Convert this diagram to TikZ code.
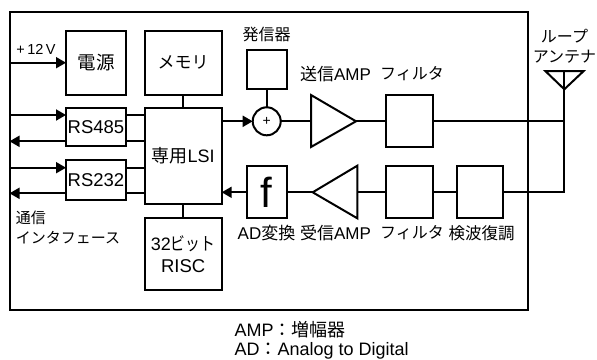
\documentclass[tikz,border=0pt]{standalone}
\usepackage{graphicx}
\usepackage{fontspec}
\setmainfont{Liberation Sans}
\newfontfamily\cjk{Noto Sans CJK JP}
\usetikzlibrary{arrows.meta}
\newcommand{\fs}[1]{\fontsize{#1}{#1}\selectfont}
\tikzset{
  x=1pt,y=-1pt,
  box/.style={draw,line width=2pt,inner sep=0pt,outer sep=0pt,align=center,font=\fs{18.5}},
  lbl/.style={inner sep=0pt,outer sep=0pt,font=\fs{16},align=center},
  wire/.style={line width=1.9pt},
  arr/.style={line width=1.9pt,-{Triangle[length=10pt,width=11pt]},shorten >=0pt},
  tri/.style={line width=2pt,line join=miter,fill=white},
}
\newcommand{\bx}[6]{\node[box,minimum width=#4-#2 pt,minimum height=#5-#3 pt] (#1) at ({(#2+#4)/2},{(#3+#5)/2}) {#6};}
\begin{document}
\begin{tikzpicture}
\useasboundingbox (0,0) rectangle (597,359);
\node[draw,line width=2pt,inner sep=0pt,outer sep=0pt,minimum width=518pt,minimum height=298.5pt] (frame) at (268.5,160.75) {};
\bx{psu}{66}{30.7}{126}{95}{{\cjk 電源}}
\bx{mem}{144.5}{30.7}{221.7}{95}{{\fs{17}\cjk メモリ}}
\bx{lsi}{144.5}{108}{221.7}{204.3}{\fs{18}{\cjk 専用}LSI}
\bx{rsa}{66}{108}{126}{146.3}{RS485}
\bx{rsb}{66}{160.3}{126}{199.7}{RS232}
\bx{risc}{144.5}{217.7}{221.7}{290.3}{\fs{18}32\scalebox{0.82}[1]{\cjk ビット}\\[3pt]RISC}
\bx{osc}{246.7}{50}{286.7}{89.3}{}
\node[draw,circle,line width=2pt,minimum size=28pt,inner sep=0pt,outer sep=0pt,font=\fs{14}] (mix) at (266.7,121.3) {+};
\bx{adc}{246.7}{165.7}{286.7}{218.3}{\fs{42}f}
\bx{ftx}{386.3}{95}{433}{147}{}
\bx{frx}{386.3}{165.7}{433}{218.3}{}
\bx{det}{456.7}{165.7}{503.3}{218.3}{}
% amplifiers
\draw[tri] (311,95) -- (356,121.3) -- (311,147) -- cycle;
\coordinate (txin) at (311,121.3);
\coordinate (txout) at (356,121.3);
\draw[tri] (357.3,165.7) -- (312.7,192.3) -- (357.3,218.3) -- cycle;
\coordinate (rxin) at (357.3,192.3);
\coordinate (rxout) at (312.7,192.3);
% antenna
\coordinate (anttop) at (564.3,71);
\coordinate (anttip) at (564.3,89.3);
\coordinate (anttx) at (564.3,121.3);
\coordinate (antrx) at (564.3,192.3);
\draw[tri,fill=none] (545.3,71) -- (583.7,71) -- (anttip) -- cycle;
\draw[wire] (anttop) -- (antrx) -- (det.east |- antrx);
\draw[wire] (ftx.east |- anttx) -- (anttx);
% left side connectors
\coordinate (a12) at (66,62.7);
\coordinate (ra) at (66,115);
\coordinate (rb) at (66,141.3);
\coordinate (rc) at (66,167.7);
\coordinate (rd) at (66,193.3);
\draw[arr] (frame.west |- a12) -- (a12);
\draw[arr] (frame.west |- ra) -- (ra);
\draw[arr] (rb) -- (frame.west |- rb);
\draw[arr] (frame.west |- rc) -- (rc);
\draw[arr] (rd) -- (frame.west |- rd);
\draw[wire] (rsa.east |- ra) -- (lsi.west |- ra);
\draw[wire] (rsa.east |- rb) -- (lsi.west |- rb);
\draw[wire] (rsb.east |- rc) -- (lsi.west |- rc);
\draw[wire] (rsb.east |- rd) -- (lsi.west |- rd);
\draw[wire] (mem) -- (lsi);
\draw[wire] (lsi) -- (risc);
\draw[wire] (osc) -- (mix);
\draw[arr] (lsi.east |- mix) -- (mix.west);
\draw[wire] (mix.east) -- (txin);
\draw[wire] (txout) -- (ftx.west |- txout);
\draw[arr] (adc.west |- rxout) -- (lsi.east |- rxout);
\draw[wire] (rxout) -- (adc.east |- rxout);
\draw[wire] (rxin) -- (frx.west |- rxin);
\draw[wire] (frx.east |- rxin) -- (det.west |- rxin);
% labels
\node[lbl,font=\fs{14.5}] (l12) at (36,49.5) {+\,12\,V};
\node[lbl] (losc) at (266.5,34) {\cjk 発信器};
\node[lbl,font=\fs{17}] (ltx) at (335.5,74) {{\cjk 送信}AMP};
\node[lbl] (lftx) at (412,74) {\cjk フィルタ};
\node[lbl] (lanta) at (564.5,36) {\cjk ループ};
\node[lbl] (lantb) at (564.5,57) {\cjk アンテナ};
\node[lbl,font=\fs{17}] (lad) at (266.5,233) {AD{\cjk 変換}};
\node[lbl,font=\fs{17}] (lrx) at (335.5,233) {{\cjk 受信}AMP};
\node[lbl] (lfrx) at (412,233) {\cjk フィルタ};
\node[lbl,font=\fs{16.5}] (ldet) at (481.5,233) {\cjk 検波復調};
\node[lbl,font=\fs{15},anchor=west] (lifa) at (16,218) {\cjk 通信};
\node[lbl,font=\fs{15},anchor=west] (lifb) at (16,238) {\cjk インタフェース};
\node[lbl,font=\fs{18},anchor=west] (n1) at (234.5,330) {AMP{\cjk ：増幅器}};
\node[lbl,font=\fs{18},anchor=west] (n2) at (234.5,351) {AD{\cjk ：}Analog to Digital};
\end{tikzpicture}
\end{document}
